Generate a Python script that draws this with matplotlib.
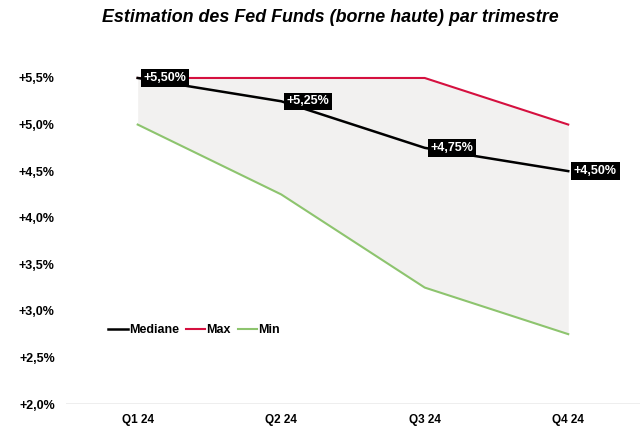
import matplotlib
matplotlib.use("Agg")
import matplotlib.pyplot as plt
from matplotlib.ticker import FuncFormatter

plt.rcParams['font.family'] = ['Liberation Sans', 'DejaVu Sans']

quarters = ["Q1 24", "Q2 24", "Q3 24", "Q4 24"]
mediane = [5.50, 5.25, 4.75, 4.50]
maxi = [5.50, 5.50, 5.50, 5.00]
mini = [5.00, 4.25, 3.25, 2.75]
yticks = [2.0, 2.5, 3.0, 3.5, 4.0, 4.5, 5.0, 5.5]

fig = plt.figure(figsize=(6.4, 4.37), dpi=100)
ax = fig.add_axes([0.103, 0.0755, 0.897, 0.81])
x = list(range(len(quarters)))

ax.fill_between(x, mini, maxi, color="#f2f1f0", zorder=1, linewidth=0)
ax.plot(x, mediane, color="black", lw=1.8, label="Mediane", zorder=3)
ax.plot(x, maxi, color="#d5103f", lw=1.5, label="Max", zorder=2)
ax.plot(x, mini, color="#8dc46e", lw=1.5, label="Min", zorder=2)

for xi, v in zip(x, mediane):
    ax.text(xi + 0.04, v, "+" + f"{v:.2f}".replace(".", ",") + "%", color="white",
            fontsize=9, fontweight="bold", va="center", ha="left", zorder=5,
            bbox=dict(boxstyle="square,pad=0.22", fc="black", ec="none"))

ax.set_xlim(-0.5, 3.5)
ax.set_ylim(2.0, 5.8)
ax.set_xticks(x)
ax.set_xticklabels(quarters, fontsize=8.5, fontweight="bold")
ax.set_yticks(yticks)
ax.yaxis.set_major_formatter(FuncFormatter(lambda v, p: "+" + f"{v:.1f}".replace(".", ",") + "%"))
for lab in ax.get_yticklabels():
    lab.set_fontweight("bold")
    lab.set_fontsize(9)
ax.tick_params(axis="both", length=0)
ax.tick_params(axis="y", pad=8)
ax.tick_params(axis="x", pad=7)
for s in ax.spines.values():
    s.set_visible(False)
ax.axhline(2.0, color="#ebebeb", lw=1.2, zorder=0)

leg = ax.legend(loc="lower left", bbox_to_anchor=(0.065, 0.177), ncol=3, frameon=False,
                handlelength=1.55, handletextpad=0.1, columnspacing=0.55,
                borderaxespad=0.0, prop=dict(size=9, weight="bold"))

fig.suptitle("Estimation des Fed Funds (borne haute) par trimestre", x=0.516, y=0.98,
             fontsize=12.9, fontweight="bold", fontstyle="italic")

fig.savefig("out.png", dpi=100)
